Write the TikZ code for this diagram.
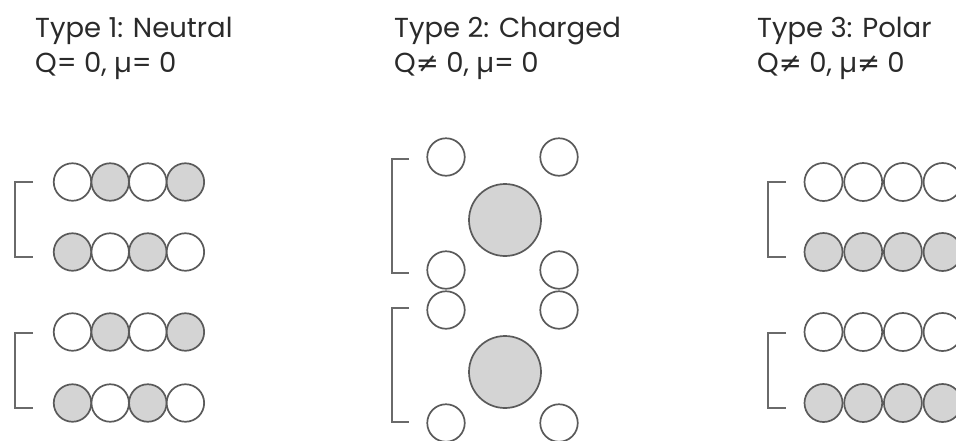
\documentclass[tikz,border=0pt]{standalone}
\usepackage{fontspec}
\setmainfont{Poppins}
\newfontfamily\symfont{DejaVu Sans}
\definecolor{ringgray}{HTML}{5A5A5A}
\definecolor{ballgray}{HTML}{D4D4D4}
\definecolor{bracegray}{HTML}{6A6A6A}
\definecolor{textgray}{HTML}{2A2A2A}
\tikzset{
  atom/.style={circle, draw=ringgray, line width=1.7pt, minimum size=37.5pt, inner sep=0pt},
  wball/.style={atom, fill=white},
  gball/.style={atom, fill=ballgray},
  bigball/.style={atom, minimum size=72pt, fill=ballgray},
  brace/.style={draw=bracegray, line width=2.4pt},
  title/.style={anchor=base west, inner sep=0pt, font=\fontsize{27.5}{32}\selectfont, text=textgray}
}
\newcommand{\neqsym}{{\symfont ≠}}
\begin{document}
\begin{tikzpicture}[x=1pt, y=-1pt]
  \useasboundingbox (0,0) rectangle (956,440);
  \clip (0,0) rectangle (956,440);

  % headings
  \node[title] (t1a) at (35,37) {Type 1: Neutral};
  \node[title] (t1b) at (35,72) {Q= 0, µ= 0};
  \node[title] (t2a) at (394,37) {Type 2: Charged};
  \node[title] (t2b) at (394,72) {Q\neqsym\ 0, µ= 0};
  \node[title] (t3a) at (757,37) {Type 3: Polar};
  \node[title] (t3b) at (757,72) {Q\neqsym\ 0, µ\neqsym\ 0};

  % Type 1: alternating rows
  \foreach \r/\y/\pa/\pb/\pc/\pd in {1/182/wball/gball/wball/gball,
                                     2/252/gball/wball/gball/wball,
                                     3/332/wball/gball/wball/gball,
                                     4/403/gball/wball/gball/wball}{
    \node[\pa] (a\r1) at (72.5,\y) {};
    \node[\pb] (a\r2) at (110.2,\y) {};
    \node[\pc] (a\r3) at (147.8,\y) {};
    \node[\pd] (a\r4) at (185.4,\y) {};
  }
  \draw[brace] (33,182) -- (15,182) -- (15,257) -- (33,257);
  \draw[brace] (33,333) -- (15,333) -- (15,408) -- (33,408);

  % Type 2: ion with counter-ions
  \node[wball] (b1) at (446,157) {};
  \node[wball] (b2) at (559,157) {};
  \node[bigball] (B1) at (505,220) {};
  \node[wball] (b3) at (446,270) {};
  \node[wball] (b4) at (559,270) {};
  \node[wball] (b5) at (446,310) {};
  \node[wball] (b6) at (559,310) {};
  \node[bigball] (B2) at (505,372) {};
  \node[wball] (b7) at (446,423) {};
  \node[wball] (b8) at (559,423) {};
  \draw[brace] (409,159) -- (392,159) -- (392,273) -- (409,273);
  \draw[brace] (409,308) -- (392,308) -- (392,422) -- (409,422);

  % Type 3: polar rows
  \foreach \r/\y/\st in {1/182/wball, 2/252/gball, 3/332/wball, 4/403/gball}{
    \foreach \c in {0,1,2,3}{
      \node[\st, minimum size=38pt] (c\r\c) at (823.5+39.7*\c,\y) {};
    }
  }
  \draw[brace] (786,182) -- (768,182) -- (768,257) -- (786,257);
  \draw[brace] (786,333) -- (768,333) -- (768,408) -- (786,408);
\end{tikzpicture}
\end{document}
